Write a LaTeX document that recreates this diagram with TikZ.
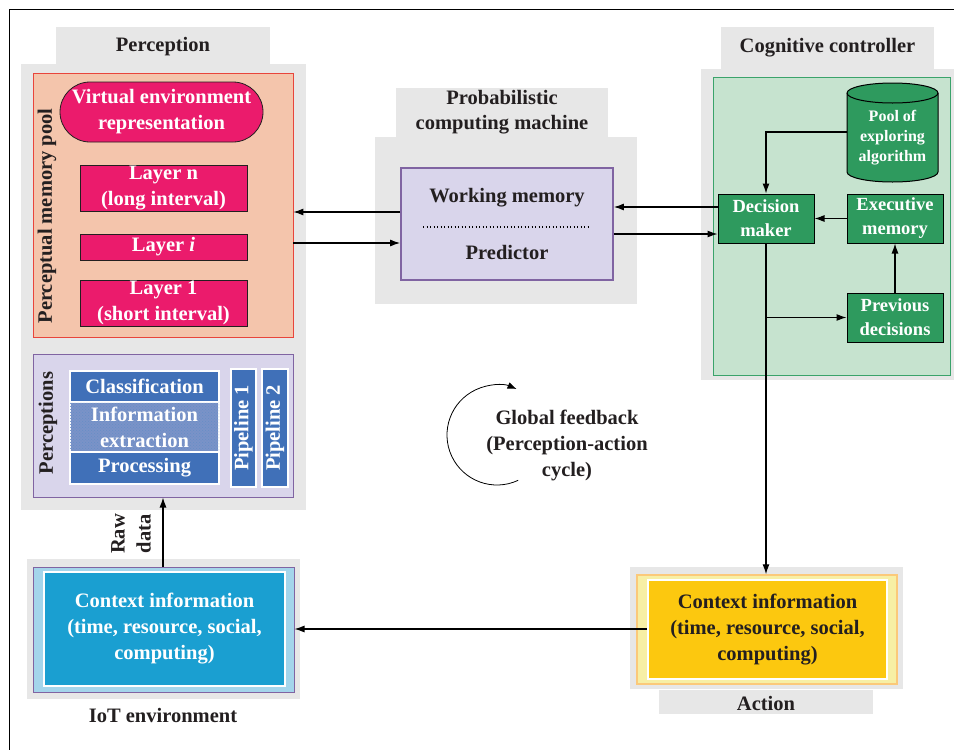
\documentclass[tikz,border=0pt]{standalone}
\usepackage{fontspec}
\setmainfont{Liberation Serif}
\usetikzlibrary{arrows.meta,patterns,calc}
\definecolor{zone}{HTML}{E7E7E7}
\definecolor{txt}{HTML}{231F20}
\definecolor{salmon}{HTML}{F4C5AC}
\definecolor{salmonline}{HTML}{E8453C}
\definecolor{pinkbox}{HTML}{EB1B6C}
\definecolor{lav}{HTML}{D9D5EB}
\definecolor{lavline}{HTML}{8064A2}
\definecolor{bluebox}{HTML}{4070B8}
\definecolor{blueinfo}{HTML}{7A93C8}
\definecolor{greenbox}{HTML}{2E9A5E}
\definecolor{greenpanel}{HTML}{C6E3CF}
\definecolor{greenline}{HTML}{3BA36B}
\definecolor{cyanbox}{HTML}{1A9FD1}
\definecolor{cyanmid}{HTML}{A4D5EB}
\definecolor{yelbox}{HTML}{FCC80F}
\definecolor{yelmid}{HTML}{F7EFA5}
\definecolor{yelline}{HTML}{FBC97A}
\begin{document}
\begin{tikzpicture}[x=1pt,y=-1pt,
  lbl/.style={font=\fontsize{20.5}{26}\selectfont\bfseries, text=txt, align=center, inner sep=0pt},
  small/.style={font=\fontsize{16}{20}\selectfont\bfseries, text=white, align=center, inner sep=0pt},
  zonebox/.style={fill=zone, draw=none, inner sep=0pt},
  pinkrect/.style={lbl, text=white, fill=pinkbox, draw=txt, line width=0.8pt},
  bluerect/.style={lbl, text=white, fill=bluebox, draw=white, line width=1.5pt},
  greenrect/.style={lbl, font=\fontsize{18.5}{24}\selectfont\bfseries, text=white, fill=greenbox, draw=black, line width=1pt},
  arr/.style={line width=1.1pt, -{Latex[length=10pt,width=7pt]}},
  wire/.style={line width=1.1pt},
  thinarr/.style={line width=0.8pt, -{Latex[length=9pt,width=7pt]}}]
\useasboundingbox (0,0) rectangle (954,750);
\fill[white] (0,0) rectangle (954,750);
% frame
\draw[line width=1pt] (9,750) -- (9,9) -- (954,9);

% ---------- Perception ----------
\node[zonebox, minimum width=214pt, minimum height=37pt] (percLabel) at (163,45.5) {};
\node[lbl] (percText) at (163,47) {Perception};
\node[zonebox, minimum width=285pt, minimum height=446pt] (percZone) at (163.5,287) {};
\node[fill=salmon, draw=salmonline, line width=0.8pt, minimum width=260pt, minimum height=264pt, inner sep=0pt] (memPool) at (163,205) {};
\node[lbl, rotate=90] (memText) at (47,216) {Perceptual memory pool};
\node[pinkrect, rounded corners=30pt, minimum width=203pt, minimum height=60pt] (vir) at (161.5,112) {Virtual environment\\representation};
\node[pinkrect, minimum width=167pt, minimum height=46pt] (layerN) at (163.5,188) {Layer n\\(long interval)};
\node[pinkrect, minimum width=167pt, minimum height=26pt] (layerI) at (163.5,247) {Layer \textit{i}};
\node[pinkrect, minimum width=167pt, minimum height=46pt] (layer1) at (163.5,303) {Layer 1\\(short interval)};

\node[fill=lav, draw=lavline, line width=1pt, minimum width=260pt, minimum height=143pt, inner sep=0pt] (percBox) at (163,425.5) {};
\node[lbl, rotate=90] (percsText) at (48,423) {Perceptions};
\node[bluerect, minimum width=149pt, minimum height=31pt] (classif) at (144.5,386.5) {Classification};
\node[bluerect, fill=blueinfo, minimum width=149pt, minimum height=50pt, postaction={pattern=crosshatch dots, pattern color=bluebox!80}] (infoex) at (144.5,427) {};
\node[lbl, text=white] (infoText) at (144.5,427) {Information\\extraction};
\node[bluerect, minimum width=149pt, minimum height=32pt] (process) at (144.5,468) {Processing};
\node[bluerect, rotate=90, minimum width=118pt, minimum height=25pt] (pipe1) at (243.5,428) {Pipeline 1};
\node[bluerect, rotate=90, minimum width=118pt, minimum height=26pt] (pipe2) at (275,428) {Pipeline 2};

% ---------- IoT environment ----------
\node[zonebox, minimum width=273pt, minimum height=140pt] (iotZone) at (163.5,629) {};
\node[fill=cyanmid, draw=lavline, line width=1pt, minimum width=261pt, minimum height=125pt, inner sep=0pt] (iotMid) at (163.5,629.5) {};
\node[lbl, text=white, fill=cyanbox, draw=white, line width=2pt, minimum width=241pt, minimum height=114pt] (iotInner) at (164.5,629) {Context information\\(time, resource, social,\\computing)};
\node[lbl] (iotLabel) at (163,715) {IoT environment};
\node[lbl, rotate=90] (rawText) at (131,534) {Raw\\data};

% ---------- Probabilistic computing machine ----------
\node[zonebox, minimum width=212pt, minimum height=49pt] (pcmLabel) at (502,112.5) {};
\node[lbl, font=\fontsize{20.5}{25}\selectfont\bfseries] (pcmText) at (502,112) {Probabilistic\\computing machine};
\node[zonebox, minimum width=262pt, minimum height=167pt] (pcmZone) at (506,220.5) {};
\node[fill=lav, draw=lavline, line width=1.8pt, minimum width=212pt, minimum height=112pt, inner sep=0pt] (pcmBox) at (507,224) {};
\node[lbl] (wm) at (507,198) {Working memory};
\draw[line width=1.3pt, dash pattern=on 1.3pt off 2.2pt] (423,227) -- (588,227);
\node[lbl] (pred) at (507,252) {Predictor};

% ---------- Cognitive controller ----------
\node[zonebox, minimum width=213pt, minimum height=42pt] (cogLabel) at (827.5,48) {};
\node[lbl] (cogText) at (827.5,48) {Cognitive controller};
\node[zonebox, minimum width=253pt, minimum height=311pt] (cogZone) at (827.5,224.5) {};
\node[fill=greenpanel, draw=greenline, line width=1pt, minimum width=237pt, minimum height=298pt, inner sep=0pt] (cogBox) at (831.5,226) {};
% cylinder
\filldraw[fill=greenbox, draw=black, line width=1pt] (847,93) -- (847,172) arc[start angle=180, end angle=360, x radius=45.5pt, y radius=10pt] -- (938,93) arc[start angle=0, end angle=180, x radius=45.5pt, y radius=10pt] -- cycle;
\draw[line width=1pt] (847,93) arc[start angle=180, end angle=360, x radius=45.5pt, y radius=10pt];
\node[small, minimum width=91pt, minimum height=80pt] (pool) at (892.5,138) {Pool of\\exploring\\algorithm};
\node[greenrect, minimum width=96pt, minimum height=49pt] (decision) at (766,218.5) {Decision\\maker};
\node[greenrect, minimum width=96pt, minimum height=49pt] (exec) at (895,218.5) {Executive\\memory};
\node[greenrect, minimum width=96pt, minimum height=49pt] (prev) at (895,317.5) {Previous\\decisions};

% ---------- Action ----------
\node[zonebox, minimum width=273pt, minimum height=122pt] (actZone) at (766.5,628) {};
\node[fill=yelmid, draw=yelline, line width=1.5pt, minimum width=260pt, minimum height=109pt, inner sep=0pt] (actMid) at (767,629.5) {};
\node[lbl, fill=yelbox, draw=white, line width=2pt, minimum width=239pt, minimum height=99pt] (actInner) at (767.5,629.5) {Context information\\(time, resource, social,\\computing)};
\node[zonebox, minimum width=214pt, minimum height=24pt] (actLabel) at (766,702) {};
\node[lbl] (actText) at (766,703) {Action};

% ---------- Global feedback ----------
\coordinate (gfc) at (497,435);
\draw[thinarr] ($(gfc)+(-65:50pt)$) arc[start angle=-65, end angle=-293, radius=50pt];
\node[lbl] (gfText) at (567,445) {Global feedback\\(Perception-action\\cycle)};

% ---------- connectors ----------
\coordinate (y212) at (0,212);
\coordinate (y243) at (0,243);
\coordinate (y207) at (0,207);
\coordinate (y234) at (0,234);
\coordinate (y132) at (0,132);
\coordinate (y629) at (0,629);
\draw[arr] (pcmBox.west |- y212) -- (memPool.east |- y212);
\draw[arr] (memPool.east |- y243) -- (pcmBox.west |- y243);
\draw[arr] (decision.west |- y207) -- (pcmBox.east |- y207);
\draw[arr] (pcmBox.east |- y234) -- (decision.west |- y234);
\draw[arr] (pool.west |- y132) -| (decision.north);
\draw[arr] (exec.west) -- (decision.east);
\draw[arr] (prev.north) -- (exec.south);
\draw[arr] (decision.south) -- (decision.south |- actMid.north);
\coordinate (branch) at (decision.south |- prev.west);
\draw[arr] (branch) -- (prev.west);
\draw[arr] (actInner.west |- y629) -- (iotMid.east |- y629);
\draw[arr] (iotMid.north -| percBox.south) -- (percBox.south);
\end{tikzpicture}
\end{document}
